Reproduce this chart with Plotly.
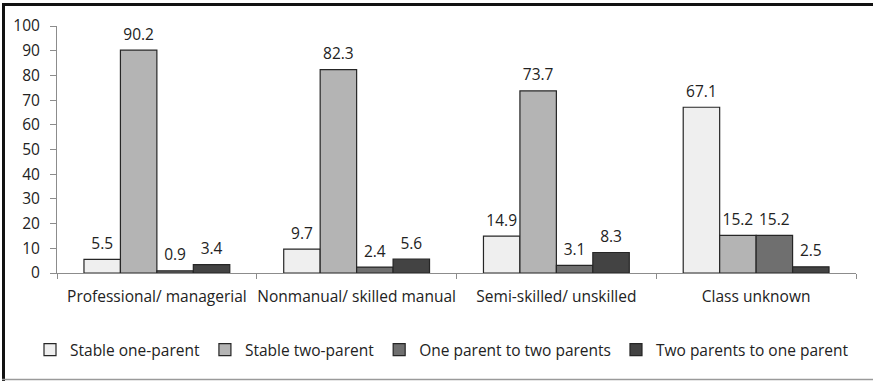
import plotly.graph_objects as go

# Family transition by social class (%)
categories = ["Professional/ managerial", "Nonmanual/ skilled manual",
              "Semi-skilled/ unskilled", "Class unknown"]
series_names = ["Stable one-parent", "Stable two-parent",
                "One parent to two parents", "Two parents to one parent"]
stable_one = [5.5, 9.7, 14.9, 67.1]
stable_two = [90.2, 82.3, 73.7, 15.2]
one_to_two = [0.9, 2.4, 3.1, 15.2]
two_to_one = [3.4, 5.6, 8.3, 2.5]
y_ticks = list(range(0, 101, 10))

series_values = [stable_one, stable_two, one_to_two, two_to_one]
fills = ["#efefef", "#b4b4b4", "#6f6f6f", "#434343"]

FONT = "Open Sans"
TXT = "#222222"
FS = 15.5

W, H = 873, 381
L, R, T, B = 57, 17, 26, 108
pw, ph = W - L - R, H - T - B

fig = go.Figure()
for i, (name, vals, col) in enumerate(zip(series_names, series_values, fills)):
    fig.add_trace(go.Bar(
        x=categories, y=vals, name=name, offsetgroup=str(i),
        marker=dict(color=col, line=dict(color="#262626", width=1.2)),
        hoverinfo="skip",
    ))
# value labels above each bar
for i, vals in enumerate(series_values):
    fig.add_trace(go.Scatter(
        x=categories, y=vals, mode="markers+text", offsetgroup=str(i),
        text=[f"{v:.1f}" for v in vals], textposition="top center",
        textfont=dict(family=FONT, size=FS, color=TXT),
        marker=dict(size=9, color="rgba(0,0,0,0)"),
        showlegend=False, hoverinfo="skip", cliponaxis=False,
    ))


def px_x(px):
    return (px - L) / pw


def px_y(py):
    return (H - B - py) / ph


shapes = [
    dict(type="line", xref="paper", yref="paper", x0=px_x(2), x1=px_x(873),
         y0=px_y(4.5), y1=px_y(4.5), line=dict(color="#111111", width=3)),
    dict(type="line", xref="paper", yref="paper", x0=px_x(3.5), x1=px_x(3.5),
         y0=px_y(3), y1=px_y(381), line=dict(color="#111111", width=3)),
    dict(type="line", xref="paper", yref="paper", x0=px_x(2), x1=px_x(873),
         y0=px_y(379.5), y1=px_y(379.5), line=dict(color="#9a9a9a", width=1.5)),
]

fig.update_layout(
    width=W, height=H,
    margin=dict(l=L, r=R, t=T, b=B, autoexpand=False),
    paper_bgcolor="white", plot_bgcolor="white",
    barmode="group", bargap=0.27, bargroupgap=0,
    scattermode="group", scattergap=0.27,
    font=dict(family=FONT, size=FS, color=TXT),
    showlegend=True,
    legend=dict(orientation="h", x=px_x(30), xanchor="left",
                y=px_y(350), yanchor="middle",
                font=dict(family=FONT, size=FS, color=TXT),
                itemwidth=30, traceorder="normal"),
    shapes=shapes,
    xaxis=dict(type="category", showline=True, linecolor="#8c8c8c", linewidth=1,
               ticks="outside", tickson="boundaries", ticklen=5,
               tickcolor="#8c8c8c", showgrid=False, zeroline=False,
               tickangle=0, automargin=False, ticklabelstandoff=9,
               tickfont=dict(family=FONT, size=FS, color=TXT)),
    yaxis=dict(range=[0, 100], tickvals=y_ticks, showline=True,
               linecolor="#8c8c8c", linewidth=1, ticks="outside", ticklen=6,
               tickcolor="#8c8c8c", showgrid=False, zeroline=False,
               automargin=False, ticklabelstandoff=7,
               tickfont=dict(family=FONT, size=FS, color=TXT)),
)

fig.write_html("out.html")
